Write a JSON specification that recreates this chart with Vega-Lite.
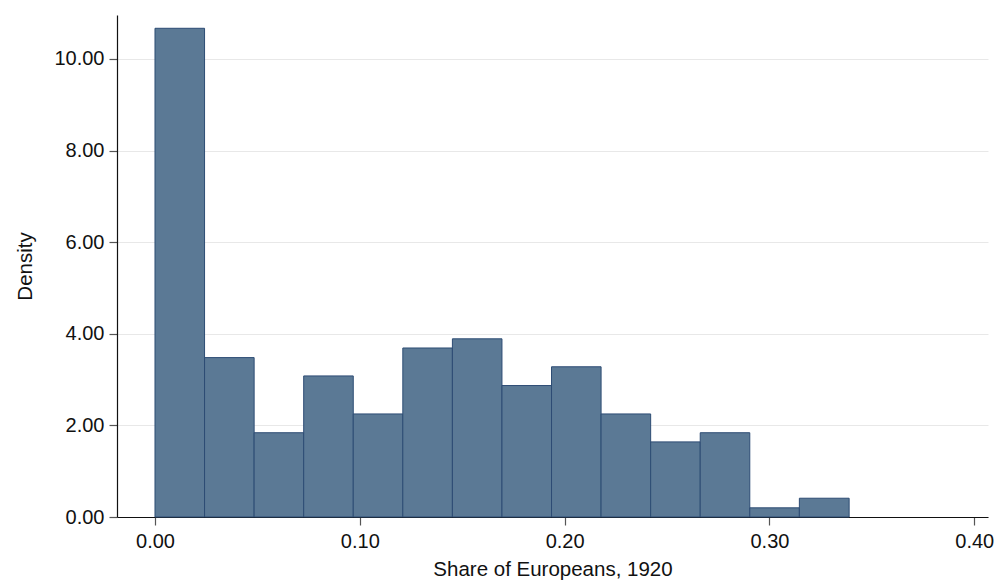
{
  "$schema": "https://vega.github.io/schema/vega-lite/v6.json",
  "width": 871,
  "height": 502,
  "autosize": {"type": "none"},
  "padding": {"left": 117, "top": 15, "right": 9, "bottom": 63},
  "background": "white",
  "config": {
    "view": {"stroke": null},
    "font": "Liberation Sans",
    "axis": {"labelFont": "Liberation Sans", "titleFont": "Liberation Sans", "titleFontWeight": "normal"}
  },
  "data": {
    "values": [
      {"x0": 0.0000, "x1": 0.0242, "density": 10.67},
      {"x0": 0.0242, "x1": 0.0484, "density": 3.48},
      {"x0": 0.0484, "x1": 0.0726, "density": 1.84},
      {"x0": 0.0726, "x1": 0.0968, "density": 3.08},
      {"x0": 0.0968, "x1": 0.1210, "density": 2.25},
      {"x0": 0.1210, "x1": 0.1452, "density": 3.69},
      {"x0": 0.1452, "x1": 0.1694, "density": 3.89},
      {"x0": 0.1694, "x1": 0.1936, "density": 2.87},
      {"x0": 0.1936, "x1": 0.2178, "density": 3.28},
      {"x0": 0.2178, "x1": 0.2420, "density": 2.25},
      {"x0": 0.2420, "x1": 0.2662, "density": 1.64},
      {"x0": 0.2662, "x1": 0.2904, "density": 1.84},
      {"x0": 0.2904, "x1": 0.3146, "density": 0.20},
      {"x0": 0.3146, "x1": 0.3389, "density": 0.41}
    ]
  },
  "mark": {"type": "rect", "fill": "#5b7995", "stroke": "#2d4c74", "strokeWidth": 1},
  "encoding": {
    "x": {
      "field": "x0", "type": "quantitative",
      "scale": {"domain": [-0.01855, 0.4067], "nice": false, "zero": false},
      "axis": {
        "values": [0, 0.1, 0.2, 0.3, 0.4], "format": ".2f", "grid": false,
        "title": "Share of Europeans, 1920", "titleFontSize": 20.5, "titleColor": "#111", "titlePadding": 8,
        "labelFontSize": 20, "labelColor": "#111", "labelPadding": 6,
        "domainColor": "#111", "domainWidth": 1.2, "tickColor": "#555", "tickSize": 8, "tickWidth": 1.2
      }
    },
    "x2": {"field": "x1"},
    "y": {
      "field": "density", "type": "quantitative",
      "scale": {"domain": [0, 10.96], "nice": false},
      "axis": {
        "values": [0, 2, 4, 6, 8, 10], "format": ".2f", "grid": true, "gridColor": "#e8e8e8", "gridWidth": 1,
        "title": "Density", "titleFontSize": 20.5, "titleColor": "#111", "titlePadding": 18,
        "labelFontSize": 20, "labelColor": "#111", "labelPadding": 5,
        "domainColor": "#111", "domainWidth": 1.2, "tickColor": "#555", "tickSize": 8, "tickWidth": 1.2
      }
    },
    "y2": {"datum": 0}
  }
}
